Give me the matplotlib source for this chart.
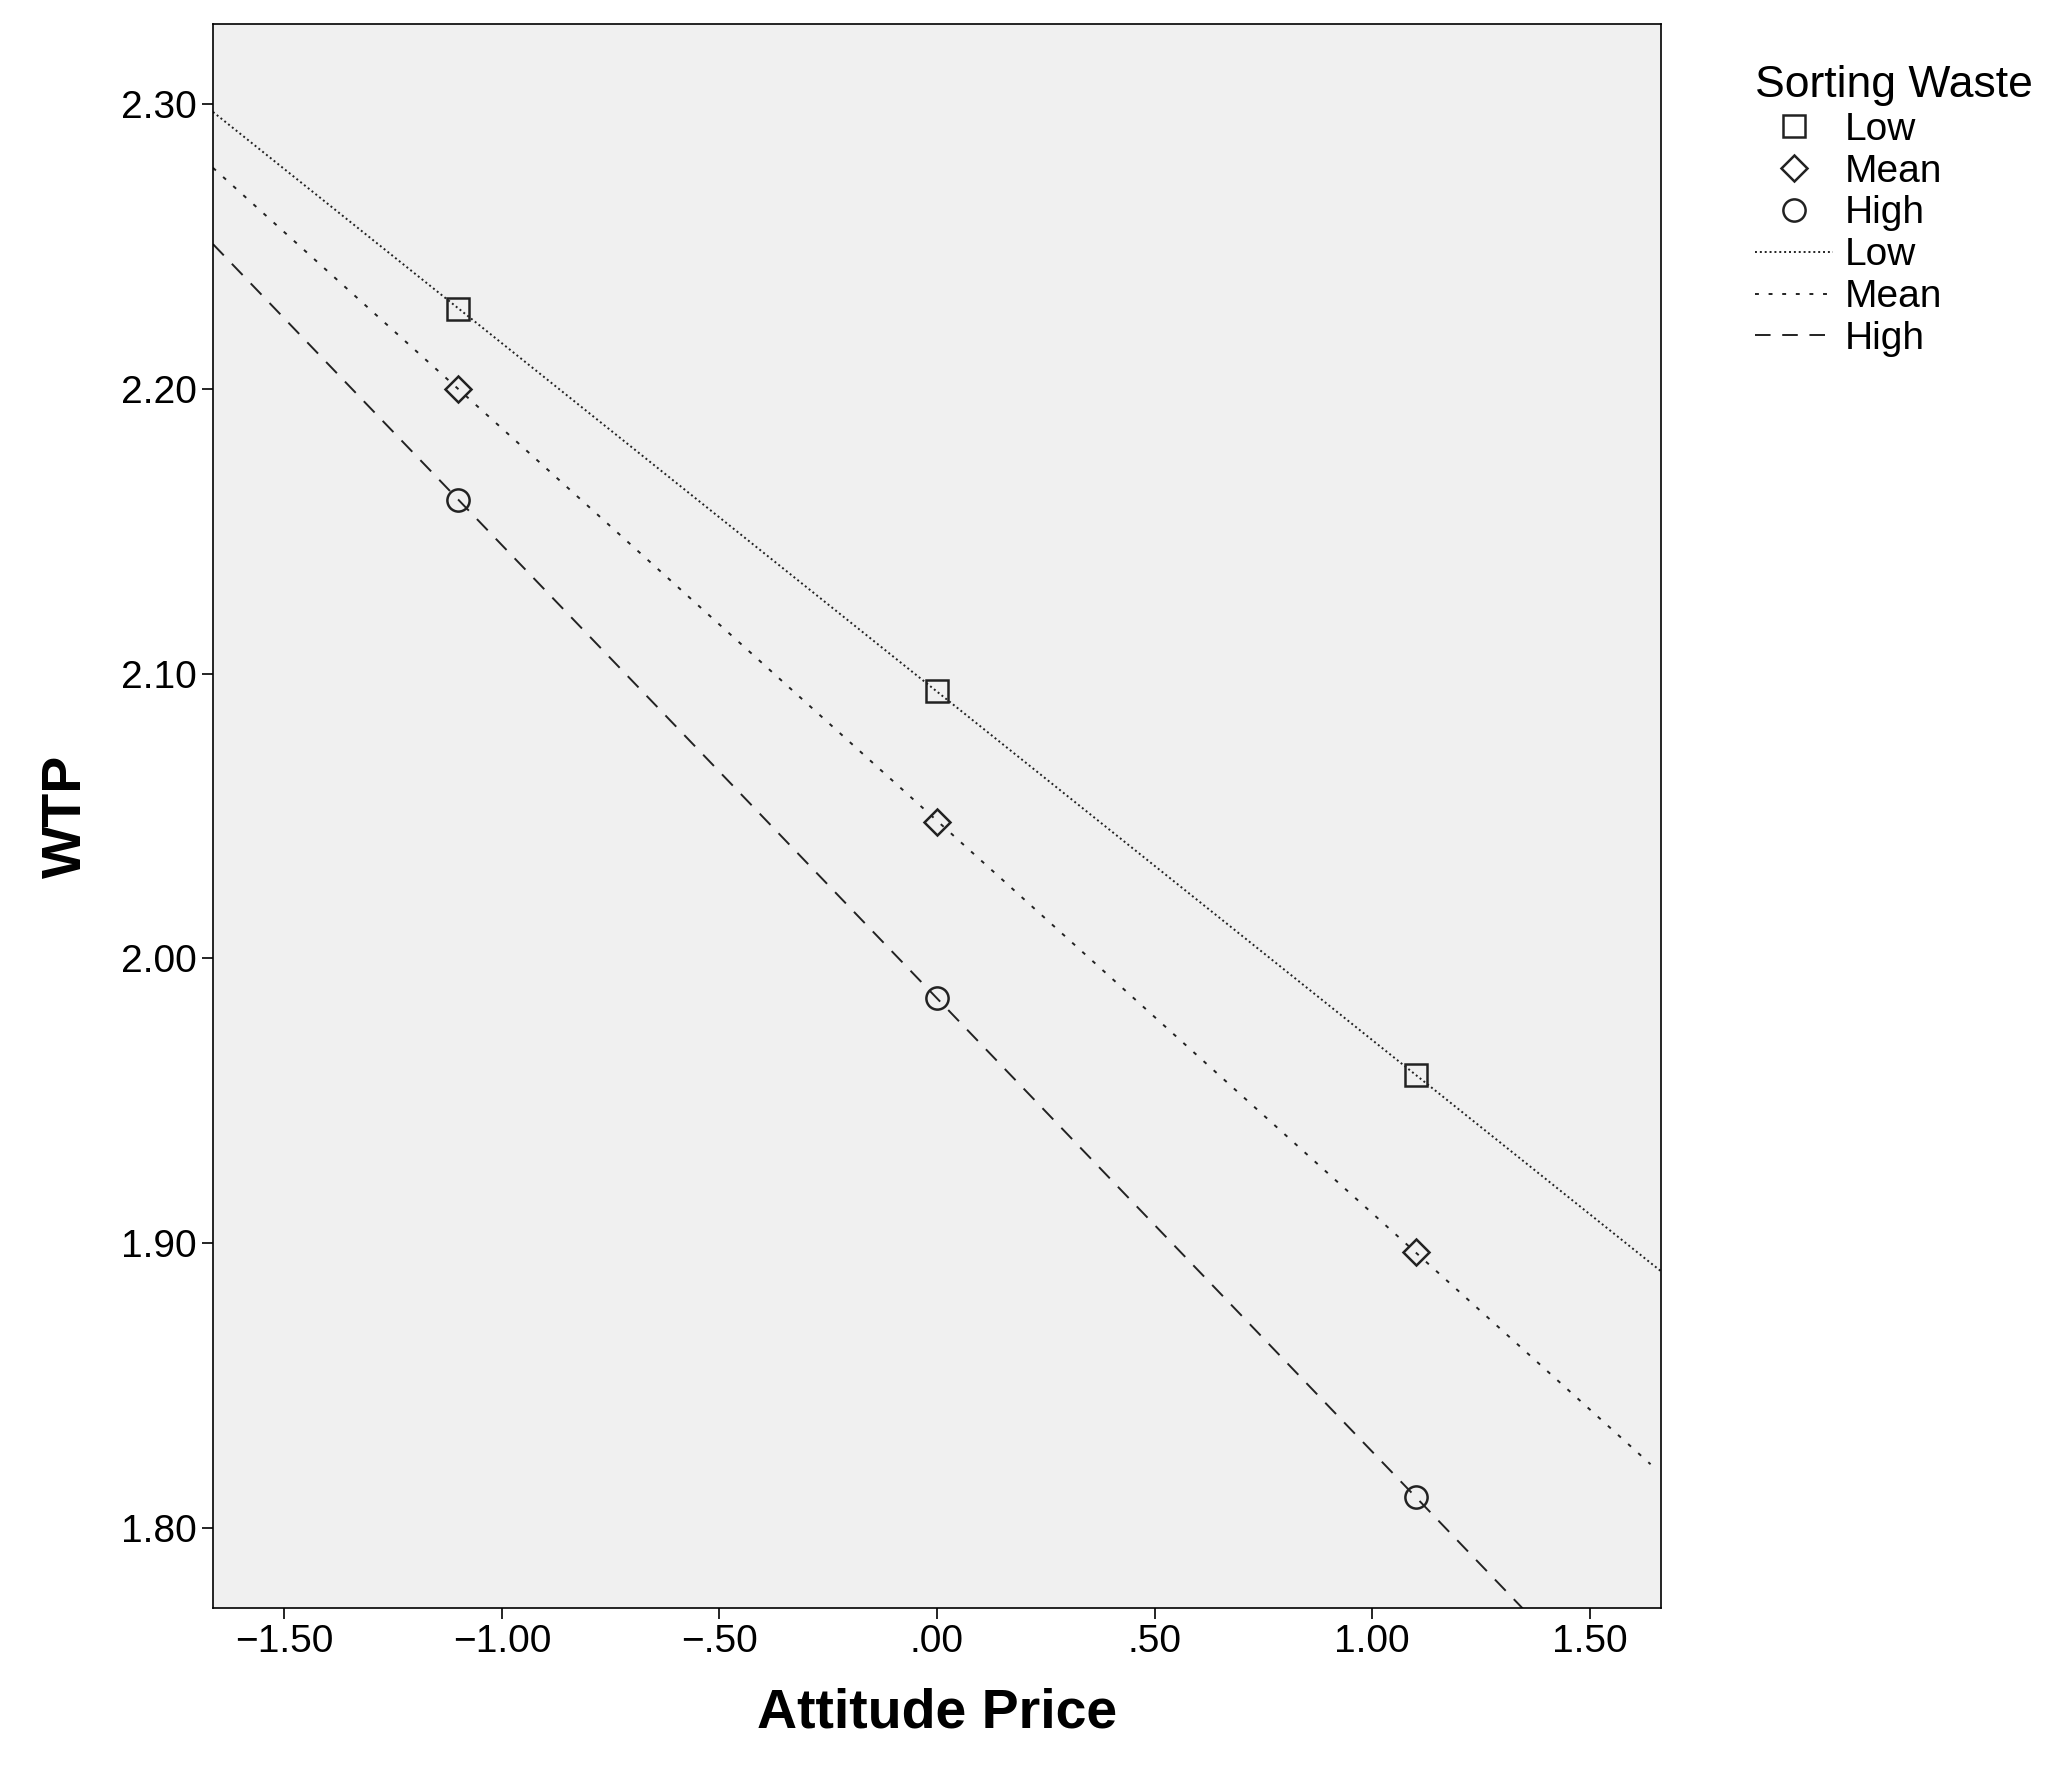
import numpy as np
import matplotlib

matplotlib.use("Agg")
import matplotlib.pyplot as plt
from matplotlib.lines import Line2D

plt.rcParams["font.family"] = ["Liberation Sans", "DejaVu Sans"]

attitude = [-1.1, 0.0, 1.1]
wtp_low = [2.228, 2.094, 1.959]
wtp_mean = [2.200, 2.048, 1.897]
wtp_high = [2.161, 1.986, 1.811]
groups = ["Low", "Mean", "High"]
markers = ["s", "D", "o"]
dashes = [(1, 1.5), (2, 5), (8, 6)]
x_ticks = [-1.5, -1.0, -0.5, 0.0, 0.5, 1.0, 1.5]
x_labels = ["−1.50", "−1.00", "−.50", ".00", ".50", "1.00", "1.50"]
y_ticks = [1.8, 1.9, 2.0, 2.1, 2.2, 2.3]

fig = plt.figure(figsize=(20.56, 17.7), dpi=100)
ax = fig.add_axes([213 / 2056, 1 - 1608 / 1770, 1448 / 2056, 1584 / 1770])
ax.set_facecolor("#f0f0f0")
xmin, xmax = -1.664, 1.664
ax.set_xlim(xmin, xmax)
ax.set_ylim(1.772, 2.328)

handles_m, handles_l = [], []
for vals, mk, ds, name in zip([wtp_low, wtp_mean, wtp_high], markers, dashes, groups):
    slope, icpt = np.polyfit(attitude, vals, 1)
    xs = np.array([xmin, 1.64 if name == "Mean" else xmax])
    ax.plot(xs, icpt + slope * xs, color="#222222", lw=1.4, dashes=ds)
    ms = 16 if mk != "D" else 13
    ax.plot(attitude, vals, ls="none", marker=mk, ms=ms, mfc="none", mec="#222222", mew=1.8)
    handles_m.append(Line2D([], [], ls="none", marker=mk, ms=ms, mfc="none", mec="#222222", mew=1.8, label=name))
    handles_l.append(Line2D([], [], color="#222222", lw=1.4, dashes=ds, label=name))

ax.set_xticks(x_ticks)
ax.set_xticklabels(x_labels)
ax.set_yticks(y_ticks)
ax.set_yticklabels([f"{v:.2f}" for v in y_ticks])
ax.tick_params(labelsize=28, length=8, width=1.2)
for s in ax.spines.values():
    s.set_linewidth(1.2)
ax.set_xlabel("Attitude Price", fontsize=40, fontweight="bold", labelpad=20)
ax.set_ylabel("WTP", fontsize=40, fontweight="bold", labelpad=20)

leg = fig.legend(handles=handles_m + handles_l, title="Sorting Waste", loc="upper left",
                 bbox_to_anchor=(1720 / 2056, 1 - 30 / 1770), frameon=False, fontsize=28,
                 title_fontsize=32, handlelength=2.0, labelspacing=0.15, handletextpad=0.3)
leg._legend_box.align = "left"

fig.savefig("out.png", dpi=100)
